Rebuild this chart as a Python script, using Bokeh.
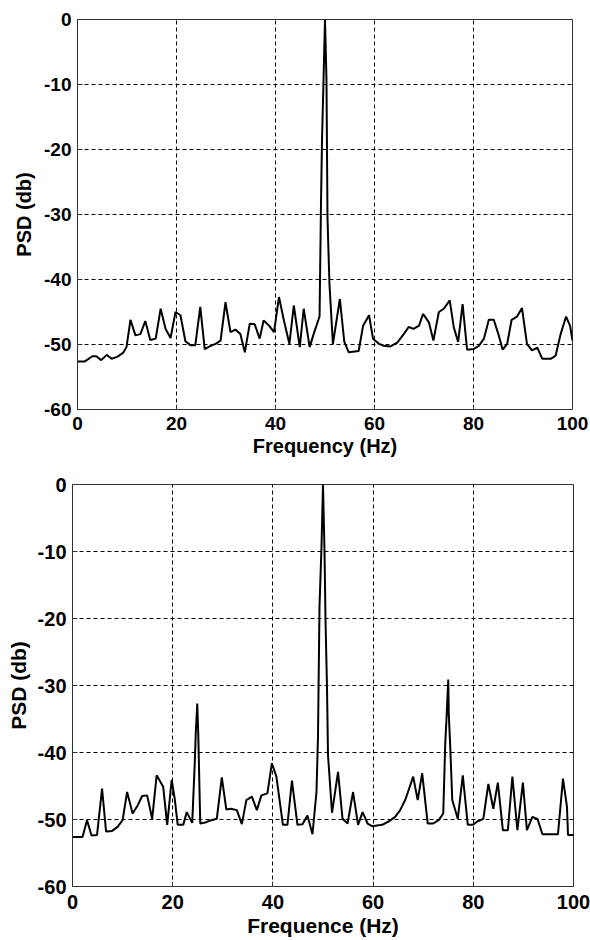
from bokeh.plotting import figure
from bokeh.layouts import column
from bokeh.models import Range1d, FixedTicker
from bokeh.embed import file_html
from bokeh.resources import INLINE

# ---------------- data ----------------
freq_top = [0, 1.5, 3, 3.8, 4.8, 5.9, 6.9, 8.0, 9.2, 9.9, 10.7, 11.7, 12.7, 13.7, 14.7,
            15.8, 16.8, 17.8, 18.8, 19.8, 20.8, 21.8, 22.8, 23.8, 24.8, 25.7, 26.9, 27.9,
            28.9, 29.9, 30.9, 31.9, 32.9, 33.8, 34.8, 35.8, 36.8, 37.6, 38.7, 39.7, 40.7,
            41.7, 42.8, 43.7, 44.9, 45.7, 46.9, 47.7, 48.9, 49.2, 49.4, 49.7, 50.0, 50.3,
            50.5, 50.9, 51.6, 53.0, 53.9, 54.8, 56.8, 57.7, 58.9, 59.7, 60.9, 61.9, 63.2,
            64.6, 65.9, 66.9, 67.9, 69.0, 69.8, 71.0, 71.9, 73.0, 74.0, 75.2, 76.0, 76.9,
            77.8, 78.7, 80.0, 81.1, 82.1, 83.1, 84.1, 85.1, 85.9, 86.8, 87.7, 88.8, 89.8,
            90.8, 91.8, 92.9, 93.9, 95.6, 96.6, 97.6, 98.7, 99.5, 100]
psd_top = [-52.6, -52.6, -51.8, -51.8, -52.4, -51.6, -52.2, -51.9, -51.3, -50.4, -46.2,
           -48.6, -48.4, -46.4, -49.3, -49.1, -44.5, -47.6, -49.0, -45.0, -45.5, -49.5,
           -50.1, -50.1, -44.2, -50.7, -50.2, -49.9, -49.4, -43.5, -48.1, -47.7, -48.4,
           -51.2, -46.8, -46.9, -49.1, -46.3, -47.1, -48.1, -42.7, -46.3, -49.9, -44.0,
           -50.4, -44.5, -50.4, -48.4, -45.7, -27.8, -18.4, -9.4, 0.0, -9.4, -30.4, -40.7,
           -49.9, -43.0, -49.6, -51.2, -51.0, -47.1, -45.5, -49.1, -49.9, -50.2, -50.3,
           -49.7, -48.4, -47.3, -47.6, -47.1, -45.3, -46.6, -49.4, -45.0, -44.5, -43.2,
           -47.3, -49.6, -43.8, -50.8, -50.7, -50.2, -49.1, -46.2, -46.2, -48.6, -50.8,
           -49.9, -46.2, -45.7, -44.4, -49.9, -50.9, -50.5, -52.2, -52.2, -51.7, -48.4,
           -45.7, -47.1, -49.4]

freq_bot = [0, 2.0, 2.9, 3.8, 4.9, 5.9, 6.7, 7.9, 9.0, 10.0, 10.9, 12.0, 13.0, 13.9, 14.9,
            15.9, 16.8, 18.1, 18.9, 19.8, 20.4, 21.0, 22.1, 22.8, 23.9, 24.4, 24.6, 24.9,
            25.1, 25.5, 26.7, 27.7, 28.8, 29.8, 30.7, 31.6, 32.8, 33.8, 34.7, 35.8, 36.8,
            37.7, 38.9, 39.8, 40.7, 42.0, 42.9, 43.8, 44.9, 45.9, 46.9, 47.9, 48.7, 49.0,
            49.3, 49.7, 50.0, 50.3, 50.5, 50.8, 51.0, 51.8, 53.0, 53.9, 54.9, 56.0, 57.0,
            57.9, 58.9, 59.8, 61.8, 63.1, 64.4, 65.4, 66.4, 67.1, 68.0, 68.9, 69.8, 70.9,
            72.0, 73.1, 74.0, 74.4, 74.7, 75.0, 75.1, 75.4, 75.8, 76.9, 77.9, 78.9, 79.9,
            80.8, 82.0, 83.0, 84.0, 84.9, 85.9, 86.9, 87.8, 88.8, 89.9, 90.7, 91.8, 92.8,
            93.8, 96.9, 97.9, 98.7, 98.9, 100]
psd_bot = [-52.6, -52.6, -50.1, -52.4, -52.3, -45.4, -51.8, -51.7, -51.1, -50.1, -45.9,
           -49.1, -47.9, -46.5, -46.4, -49.9, -43.4, -45.1, -50.8, -44.1, -46.9, -50.8,
           -50.8, -48.9, -50.5, -41.6, -37.2, -32.7, -37.2, -50.6, -50.4, -50.1, -49.9,
           -43.7, -48.5, -48.4, -48.6, -50.7, -47.1, -46.6, -48.6, -46.4, -46.1, -41.6,
           -43.6, -50.8, -50.8, -44.2, -50.8, -50.7, -49.4, -52.2, -45.9, -37.7, -18.3,
           -9.3, 0.0, -10.0, -20.2, -30.4, -40.4, -49.0, -42.9, -49.9, -50.6, -45.9, -50.8,
           -48.9, -50.6, -51.0, -50.8, -50.3, -49.6, -48.6, -47.1, -45.6, -43.6, -47.1,
           -43.1, -50.6, -50.6, -50.1, -49.1, -38.7, -34.2, -29.1, -34.2, -39.2, -47.1,
           -49.9, -43.4, -50.8, -50.8, -50.3, -49.9, -44.7, -48.4, -44.5, -51.6, -51.6,
           -43.6, -51.6, -44.5, -51.6, -49.6, -49.9, -52.2, -52.2, -43.9, -48.1, -52.3,
           -52.3]

x_ticks = [0, 20, 40, 60, 80, 100]
y_ticks = [-60, -50, -40, -30, -20, -10, 0]
y_tick_labels = ["-60", "-50", "-40", "-30", "-20", "-10", "0"]
x_grid = [20, 40, 60, 80]
y_grid = [-50, -40, -30, -20, -10]

FONT = "Liberation Sans"
EDGE = "#333333"


def make_panel(fx, fy, xlabel, height, left, right, top, bottom, tick_px, label_px,
               ylabel_standoff, xtick_standoff):
    p = figure(width=590, height=height,
               min_border_left=left, min_border_right=right,
               min_border_top=top, min_border_bottom=bottom,
               x_range=Range1d(0, 100), y_range=Range1d(-60, 0),
               output_backend="svg", toolbar_location=None)
    p.background_fill_color = "white"
    p.border_fill_color = "white"
    p.outline_line_color = EDGE
    p.outline_line_width = 1

    p.line(fx, fy, line_color="black", line_width=2)

    for ax in (p.xaxis[0], p.yaxis[0]):
        ax.axis_line_color = EDGE
        ax.major_tick_line_color = EDGE
        ax.major_tick_in = 5
        ax.major_tick_out = 0
        ax.minor_tick_line_color = None
        ax.major_label_text_font = FONT
        ax.major_label_text_font_style = "bold"
        ax.major_label_text_font_size = tick_px
        ax.major_label_text_color = "black"
        ax.axis_label_text_font = FONT
        ax.axis_label_text_font_style = "bold"
        ax.axis_label_text_font_size = label_px
        ax.axis_label_text_color = "black"
    p.xaxis[0].ticker = FixedTicker(ticks=x_ticks)
    p.yaxis[0].ticker = FixedTicker(ticks=y_ticks)
    p.yaxis[0].major_label_overrides = {t: s for t, s in zip(y_ticks, y_tick_labels)}
    p.xaxis[0].major_label_standoff = xtick_standoff
    p.yaxis[0].major_label_standoff = 6

    p.xaxis[0].axis_label = xlabel
    p.xaxis[0].axis_label_standoff = 2
    p.yaxis[0].axis_label = "PSD (db)"
    p.yaxis[0].axis_label_standoff = ylabel_standoff

    p.xgrid.ticker = FixedTicker(ticks=x_grid)
    p.ygrid.ticker = FixedTicker(ticks=y_grid)
    for g in (p.xgrid[0], p.ygrid[0]):
        g.grid_line_color = "black"
        g.grid_line_dash = "4 3"
        g.grid_line_width = 1
    return p


p1 = make_panel(freq_top, psd_top, "Frequency (Hz)", 463, 77, 18, 19, 54,
                "19px", "20px", 6, 7)
p2 = make_panel(freq_bot, psd_bot, "Frequence (Hz)", 477, 72, 17, 21, 54,
                "20px", "21px", 5, 8)

layout = column(column(p1), column(p2), spacing=0)
open("out.html", "w").write(file_html(layout, INLINE))
